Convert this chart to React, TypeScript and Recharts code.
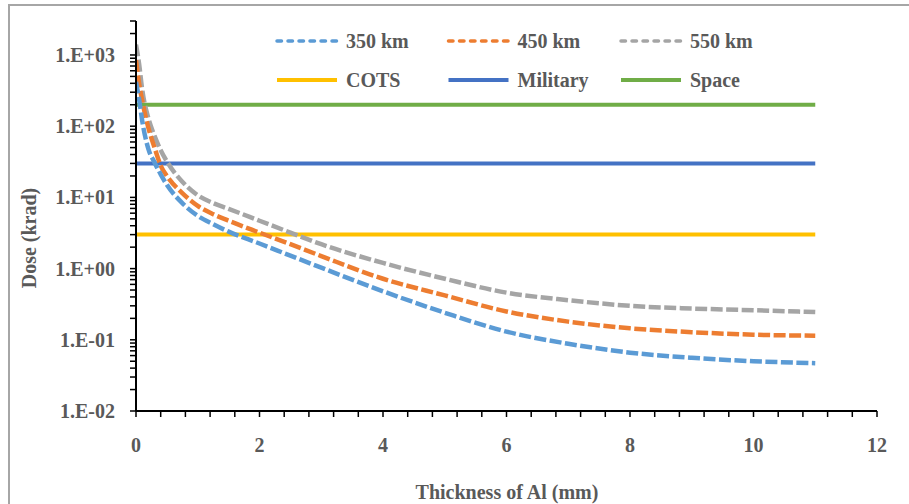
import React from "react";
import { LineChart, Line, XAxis, YAxis, Legend, Label } from "recharts";

const thickness = [0, 0.05, 0.1, 0.2, 0.3, 0.4, 0.5, 0.75, 1, 1.25, 1.5, 2, 2.5, 3, 4, 5, 6, 7, 8, 9, 10, 11];
const dose350 = [420, 240, 120, 48, 31, 21, 15, 8.3, 5.5, 4.2, 3.3, 2.25, 1.52, 1.03, 0.48, 0.24, 0.13, 0.088, 0.066, 0.056, 0.05, 0.047];
const dose450 = [850, 400, 230, 95, 50, 28, 20, 11.5, 7.6, 5.8, 4.7, 3.2, 2.2, 1.5, 0.72, 0.42, 0.25, 0.18, 0.145, 0.128, 0.118, 0.114];
const dose550 = [1400, 750, 330, 130, 73, 46, 32, 16.6, 10.7, 8.3, 6.9, 4.7, 3.2, 2.2, 1.2, 0.72, 0.46, 0.36, 0.3, 0.275, 0.26, 0.245];
const cotsLevel = 3;
const militaryLevel = 30;
const spaceLevel = 200;

const xTicks = [0, 0.4, 0.8, 1.2, 1.6, 2, 2.4, 2.8, 3.2, 3.6, 4, 4.4, 4.8, 5.2, 5.6, 6, 6.4, 6.8, 7.2, 7.6, 8, 8.4, 8.8, 9.2, 9.6, 10, 10.4, 10.8, 11.2, 11.6, 12];
const xLabelTicks = [0, 2, 4, 6, 8, 10, 12];
const xLabels = ["0", "2", "4", "6", "8", "10", "12"];
const yTicks = [
  0.01, 0.02, 0.03, 0.04, 0.05, 0.06, 0.07, 0.08, 0.09,
  0.1, 0.2, 0.3, 0.4, 0.5, 0.6, 0.7, 0.8, 0.9,
  1, 2, 3, 4, 5, 6, 7, 8, 9,
  10, 20, 30, 40, 50, 60, 70, 80, 90,
  100, 200, 300, 400, 500, 600, 700, 800, 900,
  1000, 2000, 3000,
];
const yLabelTicks = [0.01, 0.1, 1, 10, 100, 1000];
const yLabels = ["1.E-02", "1.E-01", "1.E+00", "1.E+01", "1.E+02", "1.E+03"];

const seriesNames = ["350 km", "450 km", "550 km", "COTS", "Military", "Space"];
const seriesColors = ["#5B9BD5", "#ED7D31", "#A5A5A5", "#FFC000", "#4472C4", "#70AD47"];

const data = thickness.map((t, i) => ({
  t,
  d350: dose350[i],
  d450: dose450[i],
  d550: dose550[i],
  cots: cotsLevel,
  mil: militaryLevel,
  space: spaceLevel,
}));

const FONT = "'Times New Roman', Times, 'Liberation Serif', Tinos, 'DejaVu Serif', 'Noto Serif', serif";
const TXT = "#595959";
const textStyle = { fontFamily: FONT, fontWeight: 700 as const };

const XTick = (props: any) => {
  const { x, y, payload } = props;
  const idx = xLabelTicks.findIndex((v) => Math.abs(v - payload.value) < 1e-9);
  if (idx < 0) return <g />;
  return (
    <text x={x} y={y + 28} dy="0.35em" textAnchor="middle" style={textStyle} fontSize={20} fill={TXT}>
      {xLabels[idx]}
    </text>
  );
};

const YTick = (props: any) => {
  const { x, y, payload } = props;
  const idx = yLabelTicks.findIndex((v) => Math.abs(v - payload.value) < 1e-9 * v);
  if (idx < 0) return <g />;
  return (
    <text x={x - 15} y={y} dy="0.35em" textAnchor="end" style={textStyle} fontSize={20} fill={TXT}>
      {yLabels[idx]}
    </text>
  );
};

const LegendContent = () => {
  const colX = [10, 181.5, 354];
  const rowY = [20, 59];
  return (
    <svg width={560} height={80} style={{ overflow: "visible" }}>
      {seriesNames.map((name, i) => {
        const col = i % 3;
        const row = Math.floor(i / 3);
        const x0 = colX[col];
        const y0 = rowY[row];
        const dashed = row === 0;
        return (
          <g key={name}>
            <line
              x1={x0 + 2}
              x2={x0 + 62}
              y1={y0}
              y2={y0}
              stroke={seriesColors[i]}
              strokeWidth={dashed ? 3.5 : 4}
              strokeDasharray={dashed ? "4.5 6.5" : undefined}
              strokeLinecap={dashed ? "round" : "butt"}
            />
            <text x={x0 + 71} y={y0} dy="0.35em" style={textStyle} fontSize={20} fill={TXT}>
              {name}
            </text>
          </g>
        );
      })}
    </svg>
  );
};

export default function App() {
  return (
    <div style={{ position: "absolute", left: 0, top: 0, width: 909, height: 504, overflow: "hidden", background: "#fff" }}>
      <div
        style={{
          position: "absolute",
          left: 8,
          top: 4,
          width: 1000,
          height: 1000,
          border: "2px solid #a6a6a6",
          boxSizing: "border-box",
        }}
      />
      <div style={{ position: "absolute", left: 0, top: 0 }}>
        <LineChart width={909} height={504} data={data} margin={{ top: 21, right: 32, bottom: 33, left: 0 }}>
          <XAxis
            dataKey="t"
            type="number"
            domain={[0, 12]}
            ticks={xTicks}
            interval={0}
            tick={<XTick />}
            tickSize={6}
            tickMargin={0}
            height={60}
            axisLine={{ stroke: "#000", strokeWidth: 2 }}
            tickLine={{ stroke: "#000", strokeWidth: 1.5 }}
            allowDataOverflow
          >
            <Label
              content={() => (
                <text x={507} y={492} dy="0.35em" textAnchor="middle" style={textStyle} fontSize={20} fill={TXT}>
                  Thickness of Al (mm)
                </text>
              )}
            />
          </XAxis>
          <YAxis
            type="number"
            scale="log"
            domain={[0.01, 3000]}
            ticks={yTicks}
            interval={0}
            tick={<YTick />}
            tickSize={6}
            tickMargin={0}
            width={136}
            axisLine={{ stroke: "#000", strokeWidth: 2 }}
            tickLine={{ stroke: "#000", strokeWidth: 1.5 }}
            allowDataOverflow
          >
            <Label
              content={() => (
                <text
                  x={29}
                  y={238}
                  dy="0.35em"
                  textAnchor="middle"
                  transform="rotate(-90 29 238)"
                  style={textStyle}
                  fontSize={20}
                  fill={TXT}
                >
                  Dose (krad)
                </text>
              )}
            />
          </YAxis>
          <Legend
            layout="horizontal"
            verticalAlign="middle"
            align="center"
            content={<LegendContent />}
            wrapperStyle={{ left: 265, top: 21, width: 560, height: 80 }}
          />
          <Line dataKey="space" name="Space" stroke={seriesColors[5]} strokeWidth={4} dot={false} isAnimationActive={false} type="linear" />
          <Line dataKey="mil" name="Military" stroke={seriesColors[4]} strokeWidth={4} dot={false} isAnimationActive={false} type="linear" />
          <Line dataKey="cots" name="COTS" stroke={seriesColors[3]} strokeWidth={4} dot={false} isAnimationActive={false} type="linear" />
          <Line
            dataKey="d550"
            name="550 km"
            stroke={seriesColors[2]}
            strokeWidth={4.5}
            strokeDasharray="12 3.5"
            dot={false}
            isAnimationActive={false}
            type="monotone"
          />
          <Line
            dataKey="d450"
            name="450 km"
            stroke={seriesColors[1]}
            strokeWidth={4.5}
            strokeDasharray="12 3.5"
            dot={false}
            isAnimationActive={false}
            type="monotone"
          />
          <Line
            dataKey="d350"
            name="350 km"
            stroke={seriesColors[0]}
            strokeWidth={4.5}
            strokeDasharray="12 3.5"
            dot={false}
            isAnimationActive={false}
            type="monotone"
          />
        </LineChart>
      </div>
    </div>
  );
}
